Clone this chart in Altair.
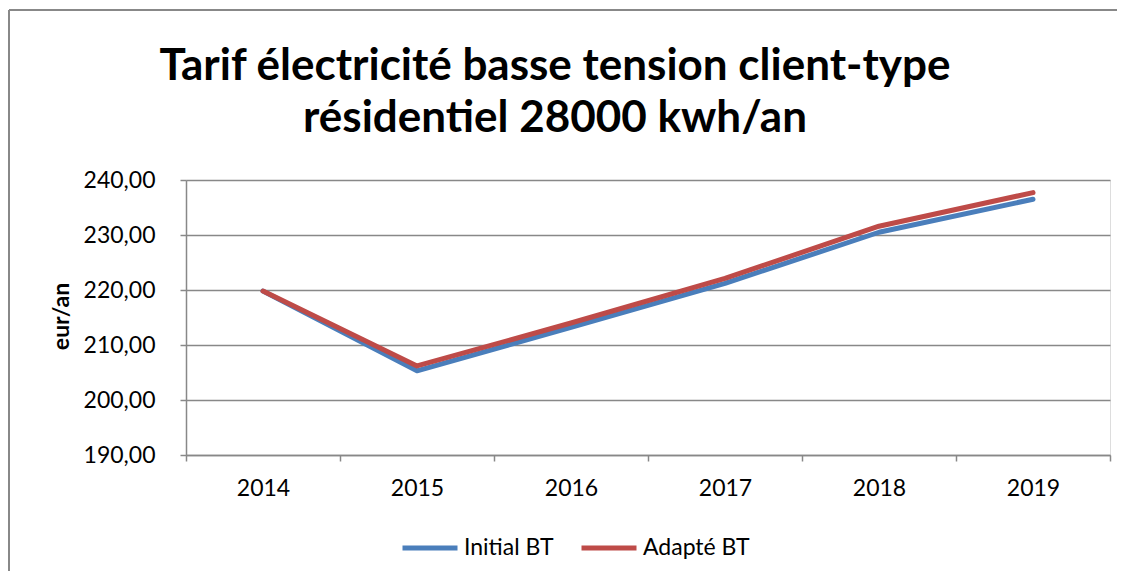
import altair as alt
import pandas as pd

years = ["2014", "2015", "2016", "2017", "2018", "2019"]
initial_bt = [219.8, 205.3, 213.2, 221.2, 230.5, 236.5]
adapte_bt = [219.8, 206.2, 214.0, 222.1, 231.6, 237.7]
series_names = ["Initial BT", "Adapté BT"]
series_colors = ["#4A7EBB", "#BE4B48"]
y_ticks = [190, 200, 210, 220, 230, 240]
title_lines = ["Tarif électricité basse tension client-type",
               "résidentiel 28000 kwh/an"]

df = pd.DataFrame({
    "year": years * 2,
    "value": initial_bt + adapte_bt,
    "series": [series_names[0]] * len(years) + [series_names[1]] * len(years),
})

FONT = "Lato"
GRAY = "#888888"
FS = 23

x_enc = alt.X(
    "year:N",
    bandPosition=0.5,
    scale=alt.Scale(type="band", paddingInner=0, paddingOuter=0),
    axis=alt.Axis(
        title=None, tickBand="extent", labelAngle=0, labelFont=FONT,
        labelFontSize=FS, labelColor="#000000", labelPadding=16,
        domainColor=GRAY, domainWidth=1.5, tickColor=GRAY, tickWidth=1.5,
        tickSize=6, grid=False,
    ),
)
y_enc = alt.Y(
    "value:Q",
    scale=alt.Scale(domain=[190, 240], nice=False, zero=False),
    axis=alt.Axis(
        title="eur/an", values=y_ticks, titleFont=FONT, titleFontSize=FS,
        titleFontWeight="bold", titleColor="#000000", titleX=-125, titleY=136,
        titleAngle=-90, titleBaseline="middle", titleAlign="center",
        labelFont=FONT, labelFontSize=FS, labelColor="#000000", labelPadding=25,
        labelExpr="replace(format(datum.value, '.2f'), '.', ',')",
        domainColor=GRAY, domainWidth=1.5, tickColor=GRAY, tickWidth=1.5,
        tickSize=6, grid=True, gridColor=GRAY, gridWidth=1.5,
    ),
)
color_enc = alt.Color(
    "series:N",
    scale=alt.Scale(domain=series_names, range=series_colors),
    legend=alt.Legend(
        title=None, orient="none", legendX=214, legendY=338,
        direction="horizontal", symbolType="stroke", symbolStrokeWidth=5,
        symbolSize=3025, labelFont=FONT, labelFontSize=FS,
        labelColor="#000000", columnPadding=17, labelOffset=4,
    ),
)

lines = [
    alt.Chart(df).transform_filter(alt.datum.series == name)
    .mark_line(strokeWidth=5, strokeCap="round", strokeJoin="round")
    .encode(x=x_enc, y=y_enc, color=color_enc)
    for name in series_names
]

frame_df = pd.DataFrame({"k": [0]})
top_border = alt.Chart(frame_df).mark_rule(color=GRAY, strokeWidth=2).encode(
    x=alt.value(-177), x2=alt.value(931), y=alt.value(-170)
)
left_border = alt.Chart(frame_df).mark_rule(color=GRAY, strokeWidth=2).encode(
    x=alt.value(-177), y=alt.value(-170), y2=alt.value(400)
)

title1 = alt.Chart(pd.DataFrame({"t": [title_lines[0]]})).mark_text(
    font=FONT, fontSize=44, fontWeight="bold", color="#000000",
    align="center", baseline="alphabetic",
).encode(text="t:N", x=alt.value(369), y=alt.value(-100))
title2 = alt.Chart(pd.DataFrame({"t": [title_lines[1]]})).mark_text(
    font=FONT, fontSize=44, fontWeight="bold", color="#000000",
    align="center", baseline="alphabetic",
).encode(text="t:N", x=alt.value(369), y=alt.value(-48))

chart = alt.layer(top_border, left_border, title1, title2, *lines).properties(
    width=924,
    height=275,
    padding={"left": 178, "top": 172, "right": 7, "bottom": 116},
    autosize=alt.AutoSizeParams(type="none"),
).configure_view(stroke=None).configure(background="white")

chart.save("out.html", embed_options={"renderer": "svg", "actions": False})
